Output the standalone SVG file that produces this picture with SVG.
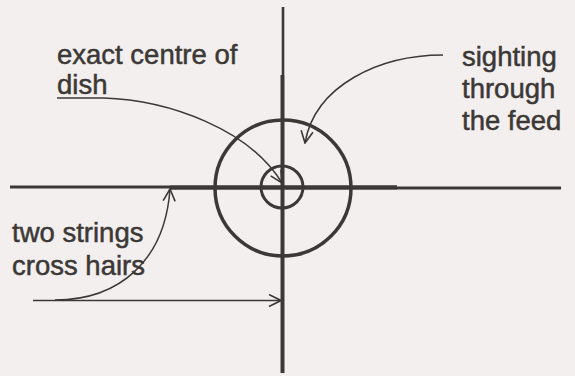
<svg xmlns="http://www.w3.org/2000/svg" width="575" height="376" viewBox="0 0 575 376">
<defs>
<style>
.ink{stroke:#3b3836;fill:none;stroke-linecap:butt}
.lbl{font-family:"Liberation Sans",Arial,sans-serif;font-size:27.5px;fill:#3b3836;stroke:#3b3836;stroke-width:0.5}
.conn{stroke:#3b3836;fill:none;stroke-width:1.5}
</style>
<marker id="vee" viewBox="0 0 14 14" refX="13" refY="7" markerWidth="14" markerHeight="14" markerUnits="userSpaceOnUse" orient="auto">
<path d="M1,1 L13,7 L1,13" fill="none" stroke="#3b3836" stroke-width="1.6"/>
</marker>
</defs>
<rect width="575" height="376" fill="#f3efee"/>
<g id="crosshair">
<line class="ink" x1="283" y1="7" x2="283" y2="75" stroke-width="2.6"/>
<line class="ink" x1="282.5" y1="75" x2="282.5" y2="373" stroke-width="4"/>
<line class="ink" x1="10" y1="187" x2="170" y2="187" stroke-width="3"/>
<line class="ink" x1="170" y1="187.5" x2="397" y2="187.5" stroke-width="4.5"/>
<line class="ink" x1="397" y1="188" x2="561" y2="188" stroke-width="3"/>
</g>
<g id="dish">
<circle class="ink" cx="283" cy="188" r="68" stroke-width="3.5"/>
</g>
<g id="feed">
<circle class="ink" cx="282" cy="187" r="21" stroke-width="3"/>
</g>
<g id="label-centre">
<text class="lbl" x="57" y="64">exact centre of</text>
<text class="lbl" x="57" y="94">dish</text>
</g>
<g id="label-sighting">
<text class="lbl" x="462" y="66" font-size="26.6">sighting</text>
<text class="lbl" x="462" y="98" font-size="26.6">through</text>
<text class="lbl" x="462" y="130" font-size="26.6">the feed</text>
</g>
<g id="label-strings">
<text class="lbl" x="12" y="242">two strings</text>
<text class="lbl" x="12" y="275">cross hairs</text>
</g>
<g id="connectors">
<line class="conn" x1="57" y1="98" x2="103" y2="98" stroke-width="2"/>
<path class="conn" d="M103,98 C170,100 250,130 282,183" marker-end="url(#vee)"/>
<path class="conn" d="M443,55 C380,55 315,85 305,143" marker-end="url(#vee)"/>
<path class="conn" d="M55,300 C120,300 165,260 170,189" marker-end="url(#vee)"/>
<line class="conn" x1="33" y1="300.5" x2="281" y2="300.5" marker-end="url(#vee)"/>
</g>
</svg>
